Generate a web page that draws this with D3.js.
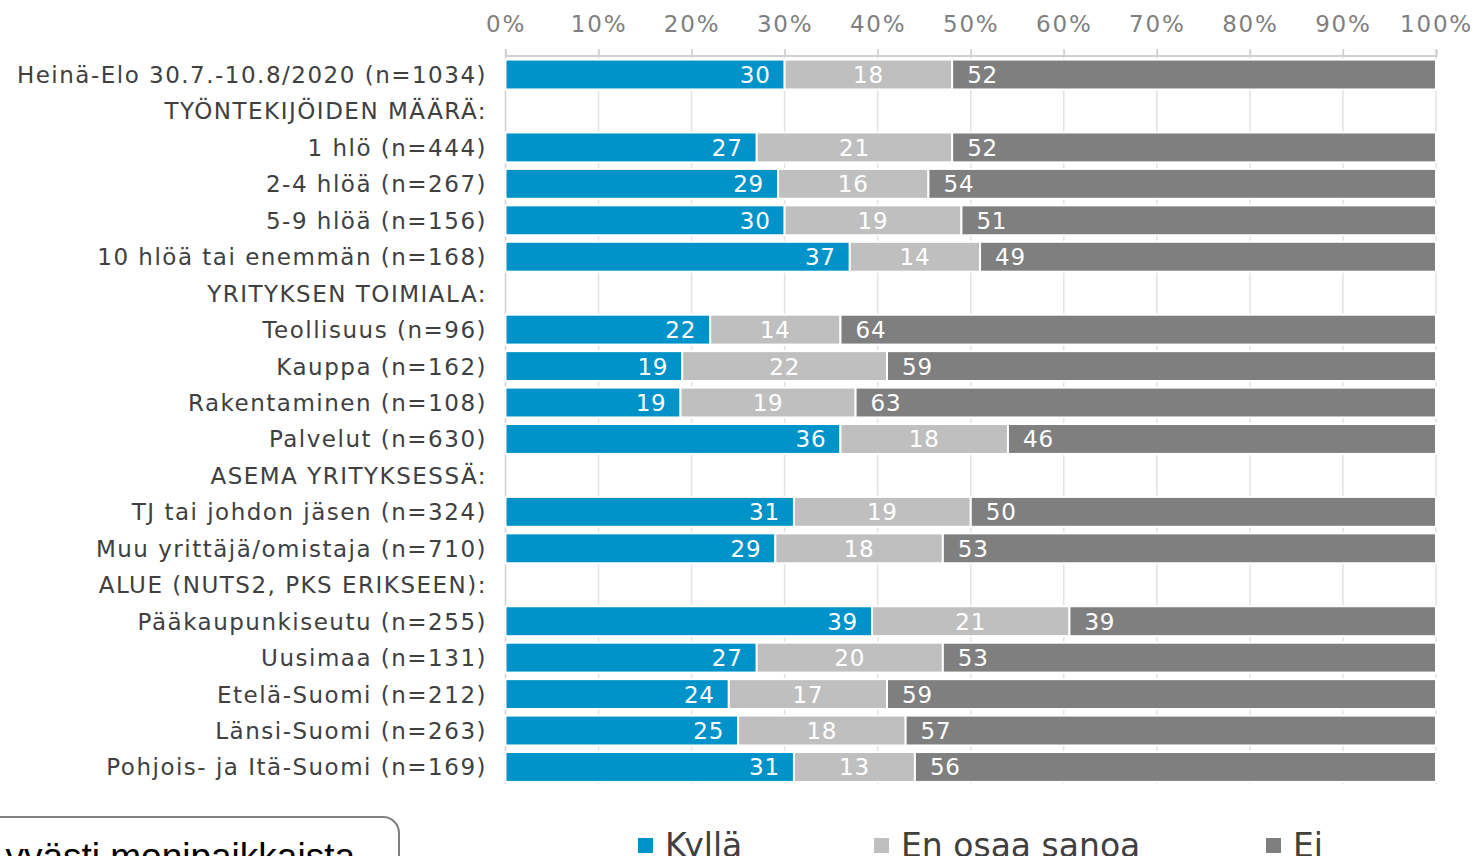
<!DOCTYPE html>
<html><head><meta charset="utf-8">
<script src="https://cdn.jsdelivr.net/npm/d3@7"></script>
<style>html,body{margin:0;padding:0;background:#fff;overflow:hidden}</style>
</head><body>
<svg id="chart" width="1478" height="856"></svg>
<script>
const categories = [
  "Heinä-Elo 30.7.-10.8/2020 (n=1034)",
  "TYÖNTEKIJÖIDEN MÄÄRÄ:",
  "1 hlö (n=444)",
  "2-4 hlöä (n=267)",
  "5-9 hlöä (n=156)",
  "10 hlöä tai enemmän (n=168)",
  "YRITYKSEN TOIMIALA:",
  "Teollisuus (n=96)",
  "Kauppa (n=162)",
  "Rakentaminen (n=108)",
  "Palvelut (n=630)",
  "ASEMA YRITYKSESSÄ:",
  "TJ tai johdon jäsen (n=324)",
  "Muu yrittäjä/omistaja (n=710)",
  "ALUE (NUTS2, PKS ERIKSEEN):",
  "Pääkaupunkiseutu (n=255)",
  "Uusimaa (n=131)",
  "Etelä-Suomi (n=212)",
  "Länsi-Suomi (n=263)",
  "Pohjois- ja Itä-Suomi (n=169)"
];
const kylla    = [30,null,27,29,30,37,null,22,19,19,36,null,31,29,null,39,27,24,25,31];
const enOsaa   = [18,null,21,16,19,14,null,14,22,19,18,null,19,18,null,21,20,17,18,13];
const ei       = [52,null,52,54,51,49,null,64,59,63,46,null,50,53,null,39,53,59,57,56];
const seriesNames = ["Kyllä","En osaa sanoa","Ei"];
const seriesColors = ["#0093C9","#BFBFBF","#7F7F7F"];
const tickValues = [0,10,20,30,40,50,60,70,80,90,100];
const boxText = "yvästi monipaikkaista";

const svg = d3.select("#chart");
const FONT = "'DejaVu Sans', Verdana, sans-serif";

const x = d3.scaleLinear().domain([0,100]).range([505.5,1436]);
const y = d3.scaleBand().domain(categories).range([56.3,785.2]).paddingInner(0.18).paddingOuter(0.09);

// gridlines
svg.append("g").selectAll("line").data(tickValues).join("line")
  .attr("x1",d=>x(d)).attr("x2",d=>x(d))
  .attr("y1",49).attr("y2",784)
  .attr("stroke",d=>d===0?"#D0D0D0":"#E3E3E3").attr("stroke-width",1.5);

// top axis
const axis = d3.axisTop(x).tickValues(tickValues).tickFormat(d=>d+"%").tickSize(6).tickPadding(18);
const ag = svg.append("g").attr("transform","translate(0,55.5)").call(axis);
ag.select(".domain").attr("stroke","#D0D0D0").attr("stroke-width",2);
ag.selectAll(".tick line").attr("stroke","#D0D0D0").attr("stroke-width",1.5);
ag.selectAll(".tick text").attr("fill","#7F7F7F").attr("font-family",FONT).attr("font-size",23).attr("letter-spacing",1.8);

// rows
const rows = categories.map((c,i)=>({cat:c, vals:[kylla[i],enOsaa[i],ei[i]]}));
const segs = [];
rows.forEach(r=>{
  if(r.vals[0]==null) return;
  const tot = d3.sum(r.vals);
  let acc = 0;
  r.vals.forEach((v,k)=>{
    const p = v/tot*100;
    segs.push({cat:r.cat,k,v,x0:acc,x1:acc+p});
    acc += p;
  });
});

svg.append("g").selectAll("rect").data(segs).join("rect")
  .attr("x",d=>x(d.x0)).attr("width",d=>x(d.x1)-x(d.x0))
  .attr("y",d=>y(d.cat)).attr("height",y.bandwidth())
  .attr("fill",d=>seriesColors[d.k]).attr("stroke","#fff").attr("stroke-width",2);

svg.append("g").selectAll("text").data(segs).join("text")
  .attr("x",d=>d.k===0?x(d.x1)-14:d.k===1?(x(d.x0)+x(d.x1))/2:x(d.x0)+15)
  .attr("y",d=>y(d.cat)+y.bandwidth()/2+8.5)
  .attr("text-anchor",d=>d.k===0?"end":d.k===1?"middle":"start")
  .attr("fill","#fff").attr("font-family",FONT).attr("font-size",23).attr("letter-spacing",0.8)
  .text(d=>d.v);

// category labels
svg.append("g").selectAll("text").data(categories).join("text")
  .attr("x",487).attr("y",d=>y(d)+y.bandwidth()/2+8.5)
  .attr("text-anchor","end").attr("fill","#404040")
  .attr("font-family",FONT).attr("font-size",23).attr("letter-spacing",1.5)
  .text(d=>d);

// legend
const legX = [638,874,1266];
const lg = svg.append("g").selectAll("g").data(seriesNames).join("g")
  .attr("transform",(d,i)=>`translate(${legX[i]},0)`);
lg.append("rect").attr("x",0).attr("y",838).attr("width",15).attr("height",15).attr("fill",(d,i)=>seriesColors[i]);
lg.append("text").attr("x",27).attr("y",857).attr("fill","#404040")
  .attr("font-family",FONT).attr("font-size",33)
  .text(d=>d);

// bottom-left box
svg.append("rect").attr("x",-30).attr("y",817).attr("width",429).attr("height",80).attr("rx",16)
  .attr("fill","#fff").attr("stroke","#808080").attr("stroke-width",2);
svg.append("text").attr("x",355).attr("y",869).attr("text-anchor","end").attr("fill","#000")
  .attr("font-family","'Liberation Sans', Arial, sans-serif").attr("font-size",37)
  .text(boxText);
</script>
</body></html>
